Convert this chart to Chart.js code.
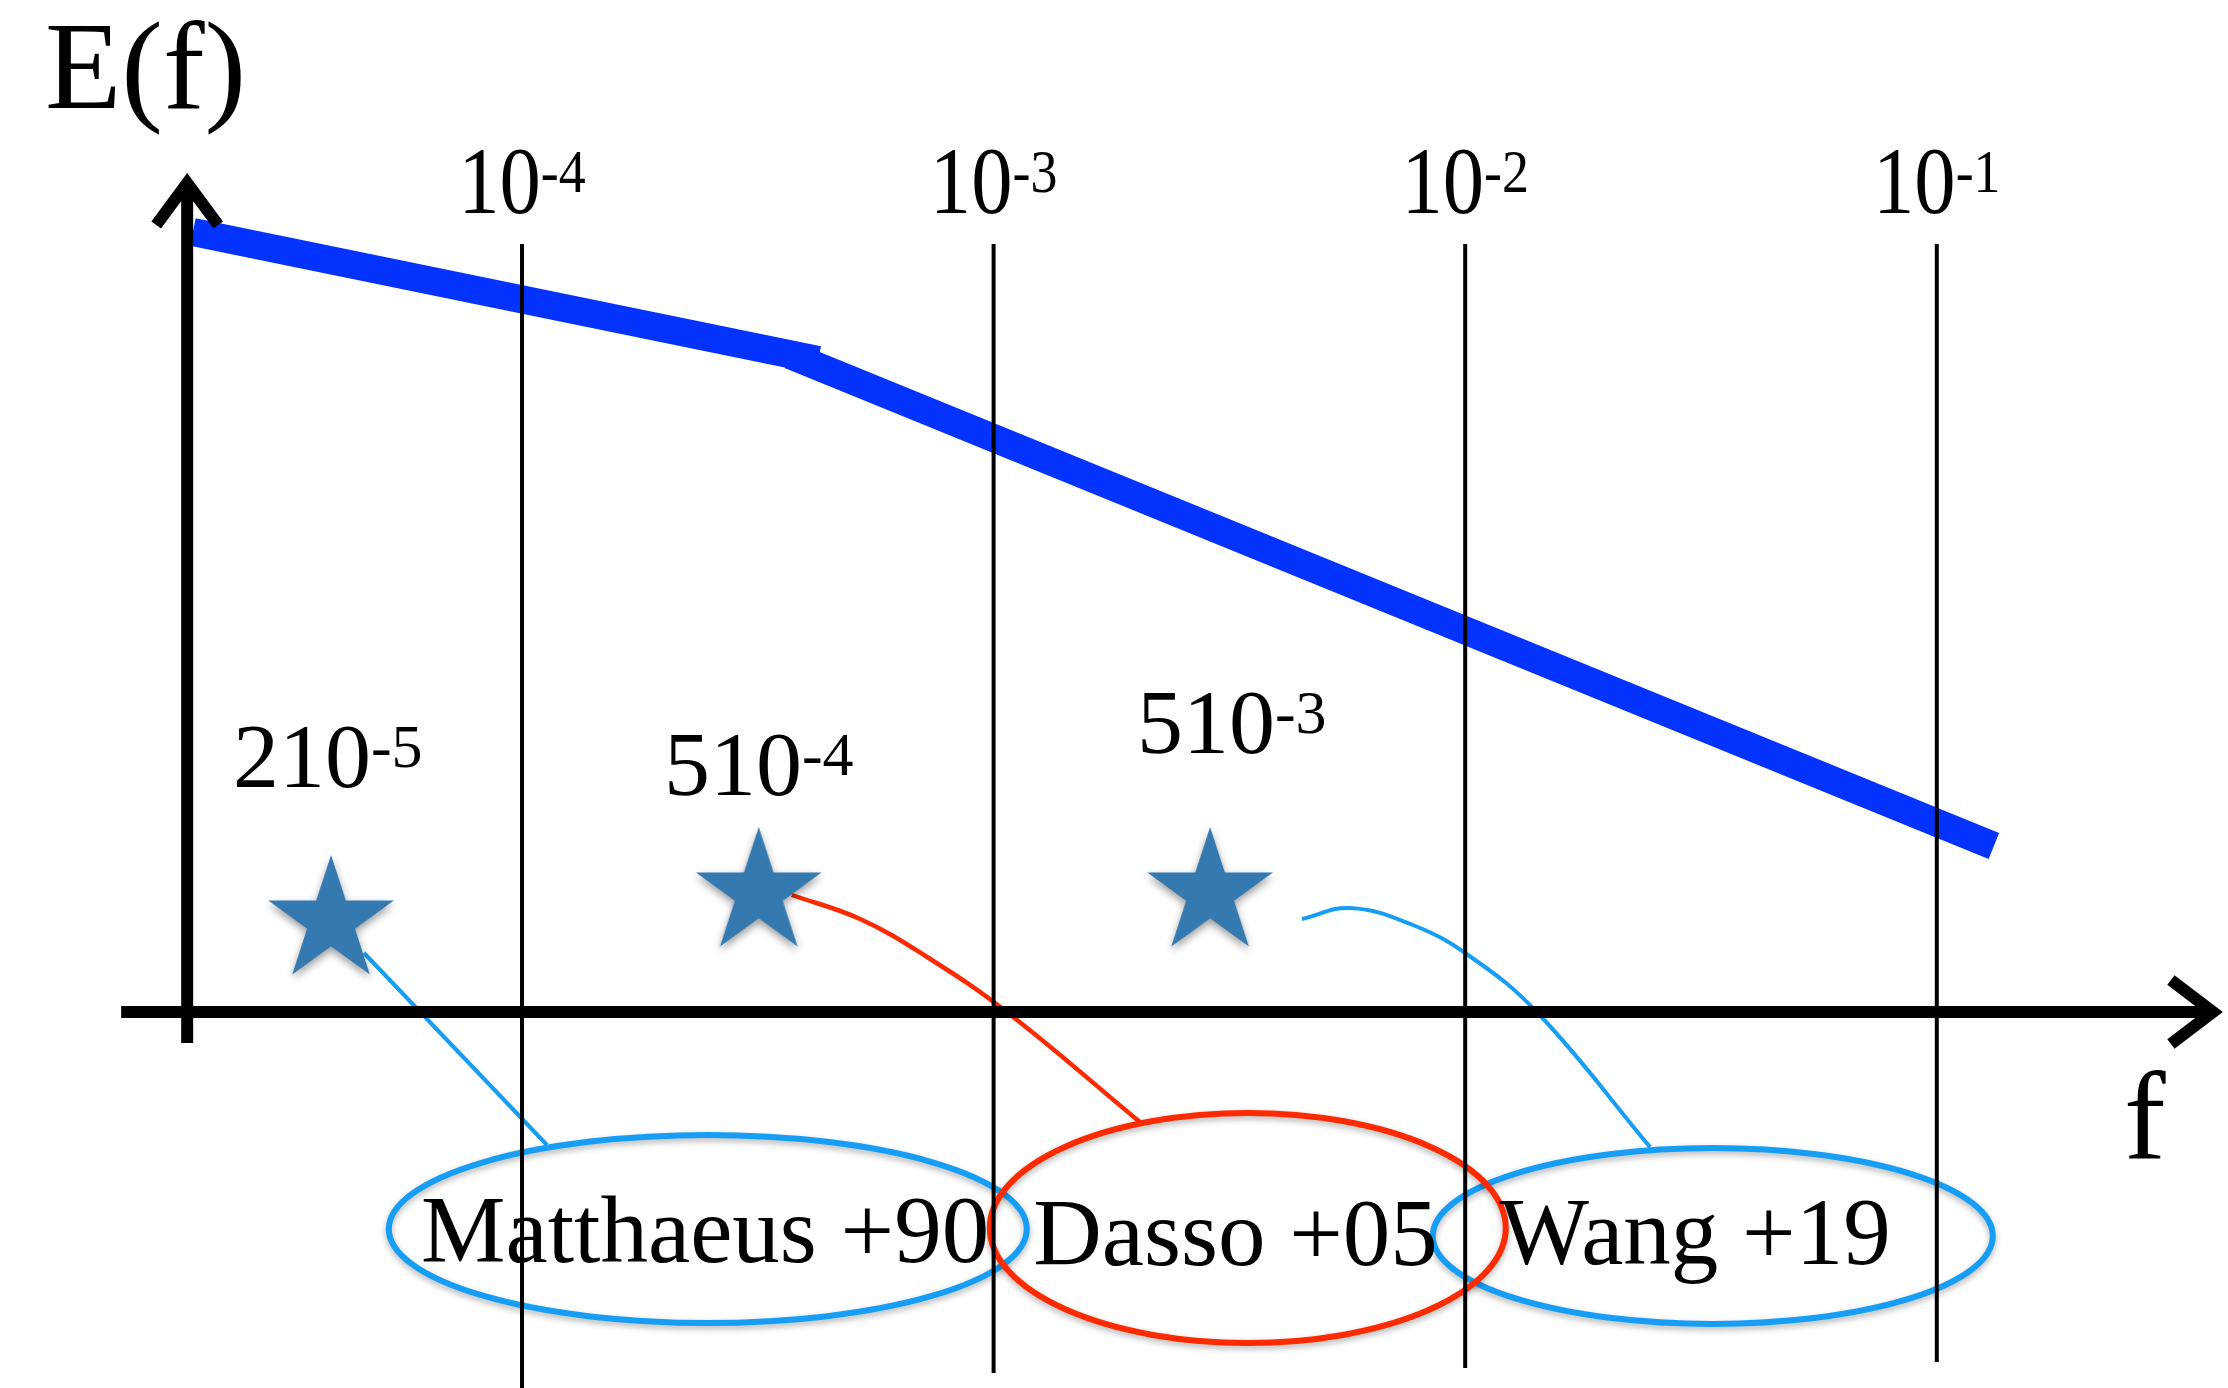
<!DOCTYPE html>
<html lang="en">

<head>
    <meta charset="UTF-8">
    <title>E(f)</title>
    <script src="https://cdn.jsdelivr.net/npm/chart.js"></script>
    <style>
        html, body { margin: 0; padding: 0; background: #fff; overflow: hidden; }
    </style>
</head>

<body>
    <canvas id="myChart" width="2228" height="1388"></canvas>

    <script>
        // x = log10(f) in decades, y = E in arbitrary (log) units
        const decades = [-4, -3, -2, -1];
        const tickBase = '10';
        const tickExp = ['-4', '-3', '-2', '-1'];

        // spectrum, two pieces with the break near 5e-4
        const spec1F = [-4.698, -3.372];
        const spec1E = [7.80, 6.52];
        const spec2F = [-3.432, -0.879];
        const spec2E = [6.57, 1.66];

        // the three estimates (stars)
        const starF = [-4.405, -3.498, -2.541];
        const starE = [0.91, 1.19, 1.19];
        const starBase = ['210', '510', '510'];
        const starExp = ['-5', '-4', '-3'];
        const starLabelF = [-4.613, -3.699, -2.696];
        const starLabelE = [2.25, 2.17, 2.59];

        // papers
        const sources = ['Matthaeus +90', 'Dasso +05', 'Wang +19'];
        const sourceF = [-4.214, -2.916, -1.928];
        const sourceE = [-2.50, -2.53, -2.52];
        const ovalF = [-3.606, -2.461, -1.475];
        const ovalE = [-2.17, -2.16, -2.24];

        // links star -> paper
        const link1F = [-4.335, -3.947];
        const link1E = [0.59, -1.33];
        const link2F = [-3.428, -3.283, -3.141, -2.972, -2.690];
        const link2E = [1.17, 0.93, 0.55, 0.00, -1.10];
        const link3F = [-2.346, -2.244, -2.111, -1.994, -1.848, -1.608];
        const link3E = [0.93, 1.04, 0.87, 0.57, 0.00, -1.35];

        // layout / style (not data)
        const BLUE = '#0433ff';
        const LINKBLUE = '#169ef6';
        const RED = '#ff2a00';
        const SERIF = '"Liberation Serif", "Times New Roman", serif';
        const ovalStyle = {
            color: [LINKBLUE, RED, LINKBLUE],
            rx: [319, 258, 280],
            ry: [94, 115, 88]
        };
        const axis = { originF: -4.71, fStart: -4.85, fEnd: -0.4145, eStart: -0.31, eEnd: 8.29 };
        const gridTop = 7.68;
        const gridBottom = [-3.76, -3.61, -3.56, -3.50];
        const tickLabelE = 7.99;
        const yTitle = { f: -5.0115, e: 9.04 };
        const xTitle = { f: -0.603, e: -1.46 };

        const pts = (xs, ys) => xs.map((v, i) => ({ x: v, y: ys[i] }));

        function makeStar(R, color) {
            const c = document.createElement('canvas');
            const pad = 14;
            c.width = c.height = 2 * R + 2 * pad;
            const g = c.getContext('2d');
            g.shadowColor = 'rgba(0,0,0,0.4)';
            g.shadowBlur = 8;
            g.shadowOffsetY = 4;
            g.fillStyle = color;
            g.beginPath();
            for (let k = 0; k < 10; k++) {
                const r = k % 2 ? R * 0.382 : R;
                const a = -Math.PI / 2 + k * Math.PI / 5;
                const px = c.width / 2 + r * Math.cos(a);
                const py = c.height / 2 + r * Math.sin(a);
                if (k) g.lineTo(px, py); else g.moveTo(px, py);
            }
            g.closePath();
            g.fill();
            return c;
        }

        function supText(ctx, px, py, base, exp, size, supSize, rise, sx, align) {
            ctx.save();
            ctx.font = size + 'px ' + SERIF;
            const w = ctx.measureText(base).width;
            ctx.font = supSize + 'px ' + SERIF;
            const w2 = ctx.measureText(exp).width;
            ctx.translate(px, py);
            ctx.scale(sx, 1);
            const x0 = align === 'center' ? -(w + w2) / 2 : 0;
            ctx.textAlign = 'left';
            ctx.textBaseline = 'alphabetic';
            ctx.fillStyle = '#000';
            ctx.font = size + 'px ' + SERIF;
            ctx.fillText(base, x0, 0);
            ctx.font = supSize + 'px ' + SERIF;
            ctx.fillText(exp, x0 + w, -rise);
            ctx.restore();
        }

        const decor = {
            id: 'decor',
            afterDatasetsDraw(chart) {
                const { ctx, scales: { x, y } } = chart;
                ctx.save();

                // ovals + paper names
                [0, 2, 1].forEach(i => {
                    ctx.save();
                    ctx.shadowColor = 'rgba(0,0,0,0.3)';
                    ctx.shadowBlur = 6;
                    ctx.shadowOffsetY = 3;
                    ctx.strokeStyle = ovalStyle.color[i];
                    ctx.lineWidth = 6;
                    ctx.beginPath();
                    ctx.ellipse(x.getPixelForValue(ovalF[i]), y.getPixelForValue(ovalE[i]),
                        ovalStyle.rx[i], ovalStyle.ry[i], 0, 0, Math.PI * 2);
                    ctx.stroke();
                    ctx.restore();
                });
                ctx.fillStyle = '#000';
                ctx.font = '95px ' + SERIF;
                ctx.textAlign = 'left';
                ctx.textBaseline = 'alphabetic';
                sources.forEach((s, i) => {
                    ctx.fillText(s, x.getPixelForValue(sourceF[i]), y.getPixelForValue(sourceE[i]));
                });

                // star values
                starBase.forEach((b, i) => {
                    supText(ctx, x.getPixelForValue(starLabelF[i]), y.getPixelForValue(starLabelE[i]),
                        b, starExp[i], 92, 62, 20, 1, 'left');
                });

                // decade lines + labels
                ctx.strokeStyle = '#000';
                ctx.lineWidth = 4;
                decades.forEach((d, i) => {
                    const px = x.getPixelForValue(d);
                    ctx.beginPath();
                    ctx.moveTo(px, y.getPixelForValue(gridTop));
                    ctx.lineTo(px, y.getPixelForValue(gridBottom[i]));
                    ctx.stroke();
                    supText(ctx, px, y.getPixelForValue(tickLabelE), tickBase, tickExp[i], 95, 62, 21, 0.87, 'center');
                });

                // axes with arrows
                const ox = x.getPixelForValue(axis.originF);
                const oy = y.getPixelForValue(0);
                ctx.lineWidth = 12;
                ctx.lineCap = 'butt';
                ctx.lineJoin = 'miter';
                const tx = x.getPixelForValue(axis.fEnd);
                ctx.beginPath();
                ctx.moveTo(x.getPixelForValue(axis.fStart), oy);
                ctx.lineTo(tx, oy);
                ctx.stroke();
                ctx.beginPath();
                ctx.moveTo(tx - 42, oy - 32);
                ctx.lineTo(tx, oy);
                ctx.lineTo(tx - 42, oy + 32);
                ctx.stroke();

                const ty = y.getPixelForValue(axis.eEnd);
                ctx.beginPath();
                ctx.moveTo(ox, y.getPixelForValue(axis.eStart));
                ctx.lineTo(ox, ty);
                ctx.stroke();
                ctx.beginPath();
                ctx.moveTo(ox - 31, ty + 42);
                ctx.lineTo(ox, ty);
                ctx.lineTo(ox + 31, ty + 42);
                ctx.stroke();

                // axis titles
                ctx.fillStyle = '#000';
                ctx.font = '125px ' + SERIF;
                ctx.fillText('E(f)', x.getPixelForValue(yTitle.f), y.getPixelForValue(yTitle.e));
                ctx.fillText('f', x.getPixelForValue(xTitle.f), y.getPixelForValue(xTitle.e));

                ctx.restore();
            }
        };

        const ctx = document.getElementById('myChart');
        const starImg = makeStar(66, '#3579b1');

        new Chart(ctx, {
            type: 'line',
            data: {
                datasets: [
                    {
                        type: 'scatter',
                        data: pts(starF, starE),
                        pointStyle: starImg,
                        pointRadius: 10
                    },
                    {
                        data: pts(link1F, link1E),
                        borderColor: LINKBLUE, borderWidth: 4, pointRadius: 0
                    },
                    {
                        data: pts(link2F, link2E),
                        borderColor: RED, borderWidth: 4.5, pointRadius: 0,
                        tension: 0.4
                    },
                    {
                        data: pts(link3F, link3E),
                        borderColor: LINKBLUE, borderWidth: 4, pointRadius: 0,
                        tension: 0.4
                    },
                    {
                        data: pts(spec1F, spec1E),
                        borderColor: BLUE, borderWidth: 28, pointRadius: 0, borderCapStyle: 'butt'
                    },
                    {
                        data: pts(spec2F, spec2E),
                        borderColor: BLUE, borderWidth: 28, pointRadius: 0, borderCapStyle: 'butt'
                    }
                ]
            },
            options: {
                responsive: false,
                devicePixelRatio: 1,
                animation: false,
                events: [],
                layout: { padding: 0, autoPadding: false },
                plugins: { legend: { display: false }, tooltip: { enabled: false } },
                scales: {
                    x: { type: 'linear', min: -5.1069, max: -0.3825, display: false },
                    y: { type: 'linear', min: -3.76, max: 10.12, display: false }
                }
            },
            plugins: [decor]
        });
    </script>
</body>

</html>
